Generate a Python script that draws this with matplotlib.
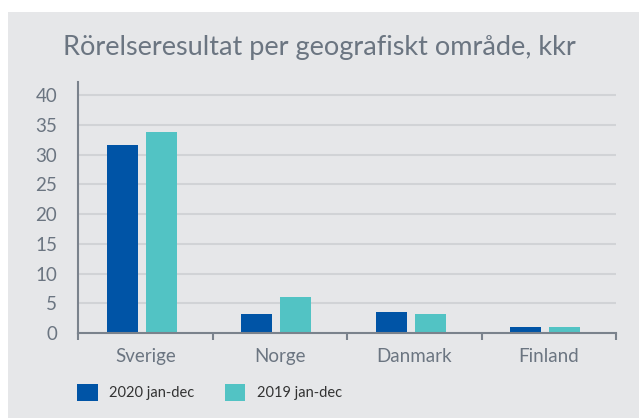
import matplotlib.pyplot as plt
from matplotlib.patches import Rectangle
import numpy as np

plt.rcParams['font.family'] = ['Lato', 'DejaVu Sans']

regions = ['Sverige', 'Norge', 'Danmark', 'Finland']
res_2020 = [31.6, 3.2, 3.5, 1.0]
res_2019 = [33.8, 6.0, 3.2, 1.0]
series_labels = ['2020 jan-dec', '2019 jan-dec']
yticks = [0, 5, 10, 15, 20, 25, 30, 35, 40]

c2020 = '#0054a6'
c2019 = '#52c3c4'
bg = '#e6e7e9'
axis_col = '#7a828c'
text_col = '#6b7581'

fig = plt.figure(figsize=(6.39, 4.18), dpi=100)
fig.patch.set_facecolor('white')
fig.patches.append(Rectangle((8/639, 0), 1, 1 - 12/418, transform=fig.transFigure,
                             facecolor=bg, edgecolor='none', zorder=-10))

ax = fig.add_axes([78/639, 1 - 333/418, 538/639, 251/418])
ax.set_facecolor('none')

x = np.arange(len(regions))
w = 0.23
ax.bar(x - 0.17, res_2020, w, color=c2020, label=series_labels[0], zorder=3)
ax.bar(x + 0.12, res_2019, w, color=c2019, label=series_labels[1], zorder=3)

ax.set_xlim(-0.5, len(regions) - 0.5)
ax.set_ylim(0, 42.2)
ax.set_yticks(yticks)
ax.set_yticklabels([str(t) for t in yticks], color=text_col, fontsize=13.5)
ax.tick_params(axis='y', which='major', length=0, pad=15)
ax.set_yticks([0], minor=True)
ax.tick_params(axis='y', which='minor', length=5, width=1.5, color=axis_col)
for t in yticks[1:]:
    ax.axhline(t, color='#d1d3d6', lw=1.5, zorder=1)

ax.set_xticks(np.arange(-0.5, len(regions)), minor=False)
ax.set_xticklabels([])
ax.set_xticks(x, minor=True)
ax.set_xticklabels(regions, minor=True, color=text_col, fontsize=13.5)
ax.tick_params(axis='x', which='major', length=5, width=1.5, color=axis_col, direction='out')
ax.tick_params(axis='x', which='minor', length=0, pad=11)

for s in ['top', 'right']:
    ax.spines[s].set_visible(False)
for s in ['left', 'bottom']:
    ax.spines[s].set_color(axis_col)
    ax.spines[s].set_linewidth(1.5)
    ax.spines[s].set_zorder(4)

fig.text(0.5, 1 - 47/418, 'Rörelseresultat per geografiskt område, kkr',
         ha='center', va='center', fontsize=19.5, color=text_col)

fig.legend(loc='lower left', bbox_to_anchor=(64/639, 4/418), ncol=2, frameon=False,
           fontsize=10.5, handlelength=1.4, handleheight=1.4, columnspacing=2.1,
           labelcolor='#333333')

plt.savefig('out.png', dpi=100)
